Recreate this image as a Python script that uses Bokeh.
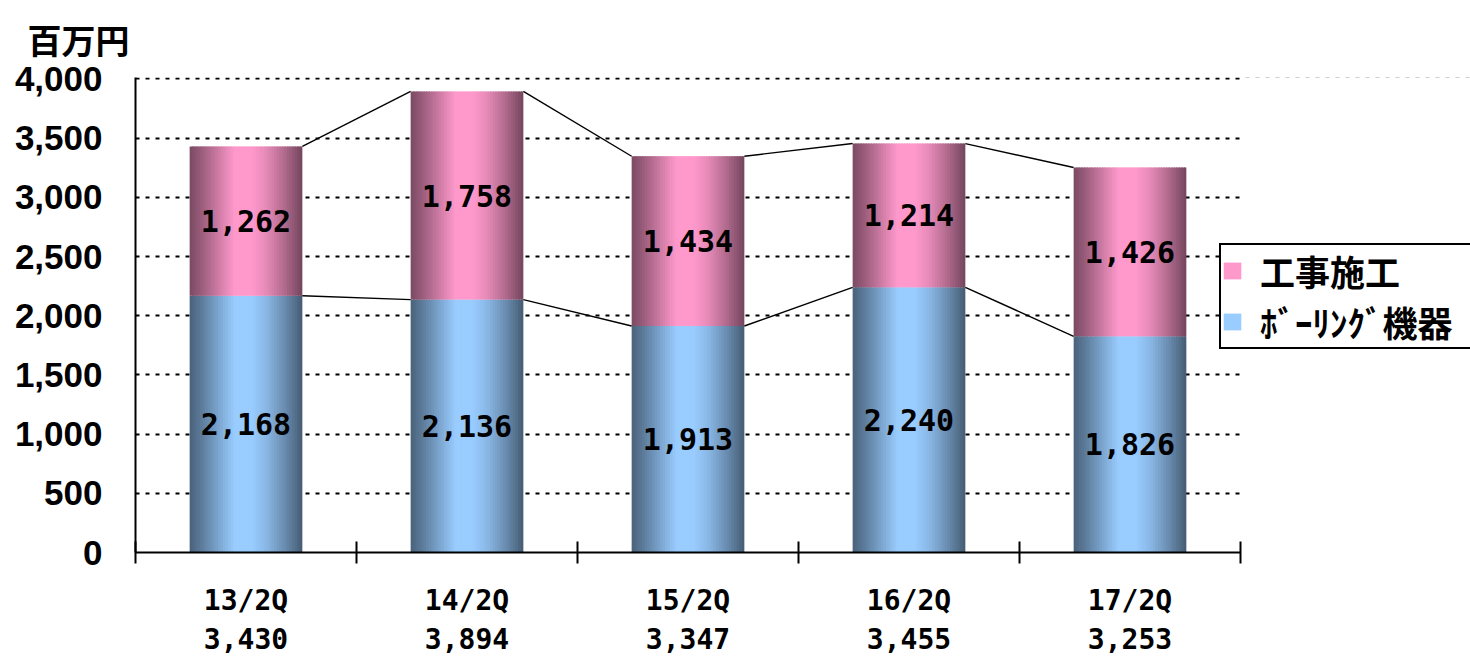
from bokeh.plotting import figure
from bokeh.models import (Range1d, FixedTicker, NumeralTickFormatter, Legend, LegendItem,
                          ColumnDataSource, LinearAxis, Grid)
from bokeh.core.properties import value
from bokeh.embed import file_html
from bokeh.resources import INLINE

# ---- data ----
categories = ["13/2Q", "14/2Q", "15/2Q", "16/2Q", "17/2Q"]
totals = [3430, 3894, 3347, 3455, 3253]
boring = [2168, 2136, 1913, 2240, 1826]          # ボーリング機器
construction = [1262, 1758, 1434, 1214, 1426]    # 工事施工
series_names = ["工事施工", "ﾎﾞｰﾘﾝｸﾞ機器"]
unit_title = "百万円"
y_ticks = [0, 500, 1000, 1500, 2000, 2500, 3000, 3500, 4000]

# ---- style ----
BAR_W = 0.51
N_STRIPS = 44
PINK = (255, 153, 204)
BLUE = (153, 204, 255)
KNOTS = [(0.0, 0.48), (0.1, 0.6), (0.25, 0.8), (0.4, 1.0), (0.55, 1.0),
         (0.68, 0.9), (0.85, 0.68), (1.0, 0.45)]
FRAME_L, AXIS_R, W, H = 135, 1240, 1470, 659
NCAT = len(categories)
X_MAX = NCAT * (W - FRAME_L) / (AXIS_R - FRAME_L)
Y_MAX = y_ticks[-1] + 12


def shade(t):
    for (t0, f0), (t1, f1) in zip(KNOTS[:-1], KNOTS[1:]):
        if t0 <= t <= t1:
            return f0 + (f1 - f0) * (t - t0) / (t1 - t0)
    return KNOTS[-1][1]


def hexcol(rgb, f):
    return "#%02x%02x%02x" % tuple(max(0, min(255, int(round(c * f)))) for c in rgb)


p = figure(width=W, height=H, output_backend="svg", toolbar_location=None,
           x_range=Range1d(0, X_MAX), y_range=Range1d(0, Y_MAX),
           min_border_left=FRAME_L, min_border_right=0, min_border_top=77,
           min_border_bottom=107, x_axis_type=None, y_axis_type=None,
           background_fill_color="white", border_fill_color="white",
           outline_line_color=None)

# dotted horizontal grid
grid = Grid(dimension=1, ticker=FixedTicker(ticks=y_ticks[1:]),
            grid_line_color="black", grid_line_width=2, grid_line_dash="4 6")
p.add_layout(grid, "center")

# blank out grid beyond the category axis extent
p.quad(left=[NCAT], right=[X_MAX], bottom=[0], top=[Y_MAX], fill_color="white", line_color=None)


# gradient bars drawn as strips
def strips(bottoms, tops, rgb):
    L, R, B, T, C = [], [], [], [], []
    dw = BAR_W / N_STRIPS
    for i in range(NCAT):
        x0 = i + 0.5 - BAR_W / 2
        for k in range(N_STRIPS):
            t = (k + 0.5) / N_STRIPS
            L.append(x0 + k * dw)
            R.append(x0 + (k + 1) * dw + (dw * 0.6 if k < N_STRIPS - 1 else 0))
            B.append(bottoms[i])
            T.append(tops[i])
            C.append(hexcol(rgb, shade(t)))
    src = ColumnDataSource(dict(left=L, right=R, bottom=B, top=T, color=C))
    return p.quad(left="left", right="right", bottom="bottom", top="top", fill_color="color",
                  line_color=None, source=src)


cum1 = boring
cum2 = [b + c for b, c in zip(boring, construction)]
r_blue = strips([0] * NCAT, cum1, BLUE)
r_pink = strips(cum1, cum2, PINK)

# series lines
for tops in (cum1, cum2):
    x0 = [i + 0.5 + BAR_W / 2 for i in range(NCAT - 1)]
    x1 = [i + 1.5 - BAR_W / 2 for i in range(NCAT - 1)]
    p.segment(x0=x0, y0=tops[:-1], x1=x1, y1=tops[1:], line_color="black", line_width=1.4)

# data labels
xc = [i + 0.5 for i in range(NCAT)]
lab_font = "DejaVu Sans Mono"
src_lab = ColumnDataSource(dict(
    x=xc + xc,
    y=[b / 2 for b in boring] + [b + c / 2 for b, c in zip(boring, construction)],
    t=[f"{v:,}" for v in boring] + [f"{v:,}" for v in construction]))
p.text(x="x", y="y", text="t", source=src_lab, text_align="center", text_baseline="middle",
       text_font=value(lab_font), text_font_size="30px", text_font_style="bold",
       text_color="black")

# axes
xaxis = LinearAxis(ticker=FixedTicker(ticks=xc, minor_ticks=list(range(NCAT + 1))),
                   bounds=(0, NCAT))
xaxis.major_label_overrides = {x: f"{c}\n{t:,}" for x, c, t in zip(xc, categories, totals)}
xaxis.major_tick_line_color = None
xaxis.major_tick_in = 0
xaxis.major_tick_out = 0
xaxis.minor_tick_line_color = "black"
xaxis.minor_tick_line_width = 2
xaxis.minor_tick_in = 11
xaxis.minor_tick_out = 11
xaxis.axis_line_color = "black"
xaxis.axis_line_width = 2
xaxis.major_label_standoff = 20
xaxis.major_label_text_font = lab_font
xaxis.major_label_text_font_size = "28px"
xaxis.major_label_text_font_style = "bold"
xaxis.major_label_text_color = "black"
p.add_layout(xaxis, "below")

yaxis = LinearAxis(ticker=FixedTicker(ticks=y_ticks), formatter=NumeralTickFormatter(format="0,0"))
yaxis.major_tick_line_color = None
yaxis.major_tick_in = 0
yaxis.major_tick_out = 0
yaxis.minor_tick_line_color = None
yaxis.axis_line_color = "black"
yaxis.axis_line_width = 2
yaxis.major_label_standoff = 33
yaxis.major_label_text_font = "Liberation Sans"
yaxis.major_label_text_font_size = "35px"
yaxis.major_label_text_font_style = "bold"
yaxis.major_label_text_color = "black"
p.add_layout(yaxis, "left")

# title
p.title.text = unit_title
p.title.align = "left"
p.title.vertical_align = "top"
p.title.offset = -108
p.title.standoff = 23
p.title.text_font = "Noto Sans CJK JP"
p.title.text_font_size = "34px"
p.title.text_font_style = "bold"
p.title.text_color = "black"

# legend
legend = Legend(items=[LegendItem(label=series_names[0], renderers=[r_pink], index=19),
                       LegendItem(label=series_names[1], renderers=[r_blue], index=19)],
                location=(1084, 203), orientation="vertical")
legend.label_text_font = "Noto Sans CJK JP"
legend.label_text_font_size = "35px"
legend.label_text_font_style = "bold"
legend.label_text_color = "black"
legend.glyph_width = 22
legend.glyph_height = 21
legend.label_standoff = 17
legend.padding = 0
legend.spacing = -4
legend.label_height = 30
legend.label_width = 215
legend.margin = 0
legend.border_line_color = "black"
legend.border_line_alpha = 1
legend.border_line_width = 2
legend.background_fill_color = "white"
legend.background_fill_alpha = 1
p.add_layout(legend, "center")

open("out.html", "w").write(file_html(p, INLINE))
